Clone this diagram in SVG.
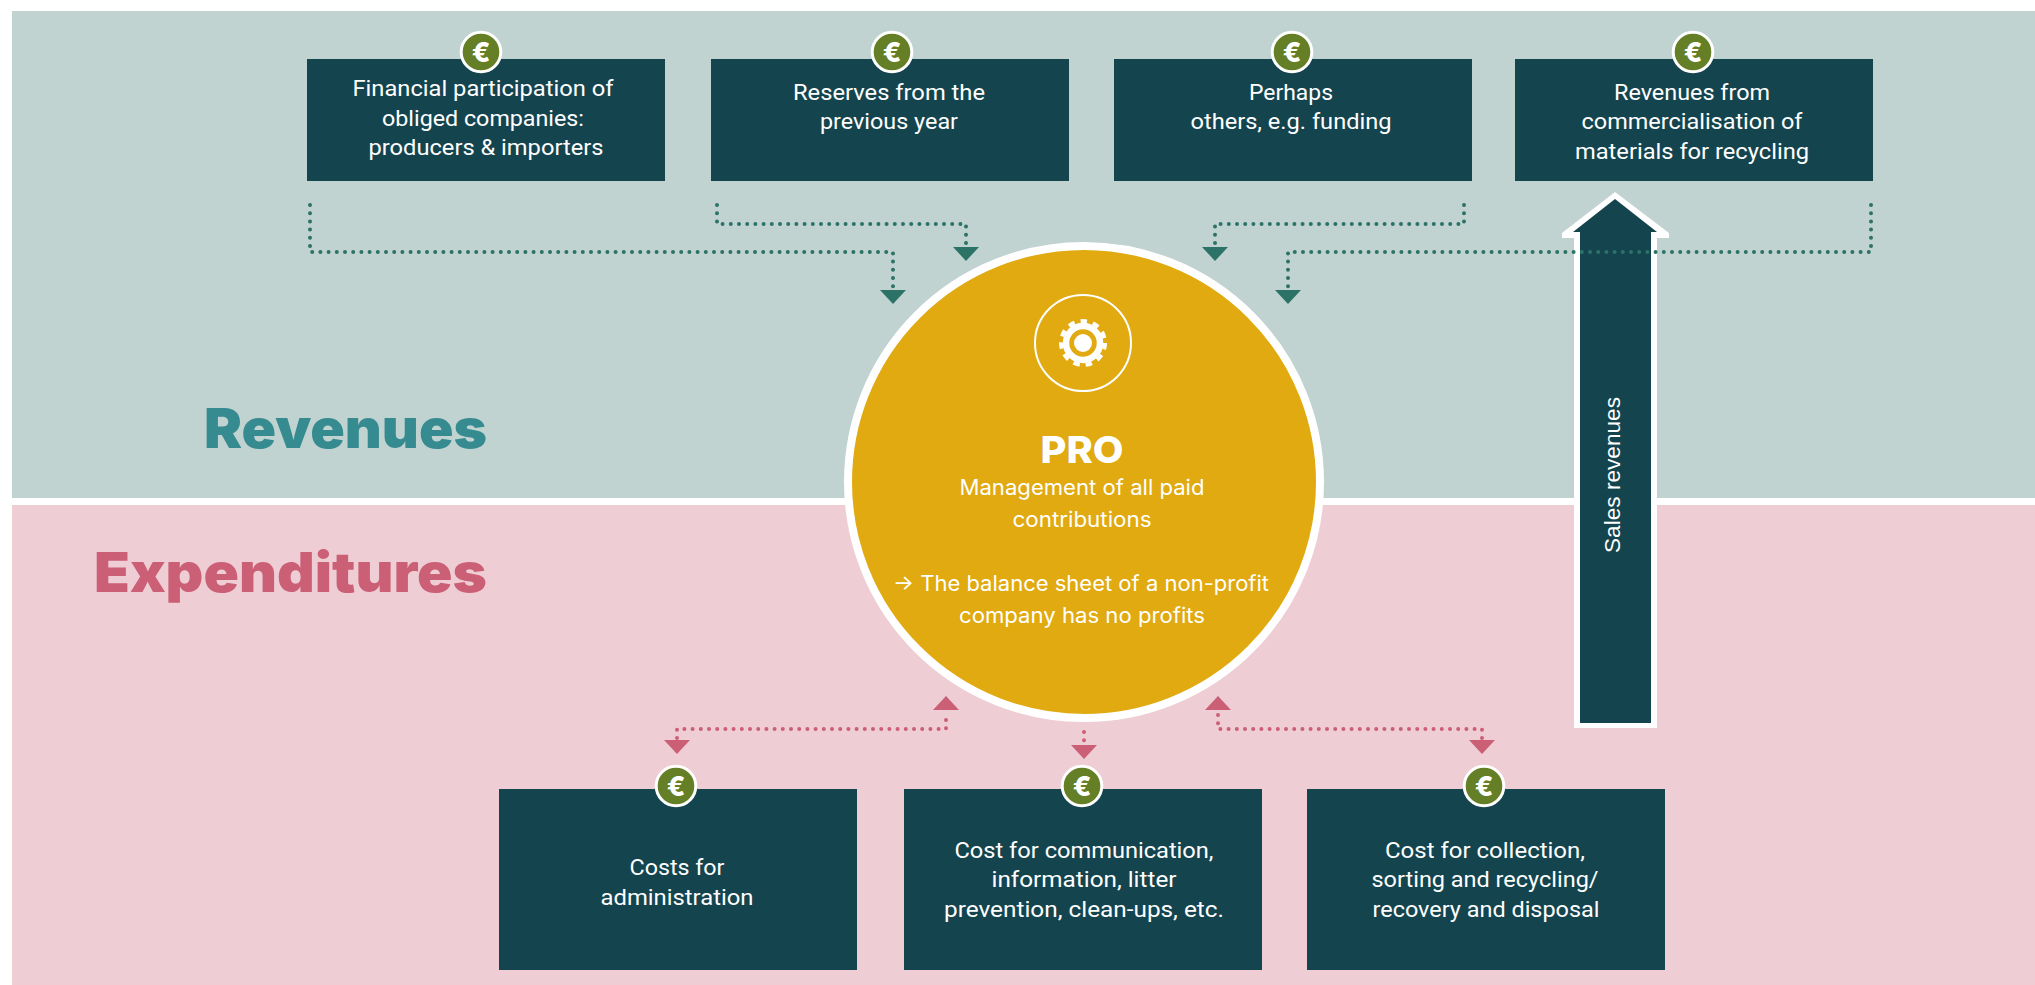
<svg xmlns="http://www.w3.org/2000/svg" width="2035" height="985" viewBox="0 0 2035 985">
<style>
text{font-family:Roboto,"Liberation Sans",sans-serif;fill:#fff;text-anchor:middle}
.b{fill:#14454f}
.t{font-size:21.5px}
.s{font-family:"Liberation Sans",Arial,sans-serif;font-size:22.6px}
.c{font-family:Inter,"Liberation Sans",sans-serif;font-size:21px}
.h{font-family:Inter,"Liberation Sans",sans-serif;font-size:55px;font-weight:900;text-anchor:end}
.coin{fill:#647f26;stroke:#fff;stroke-width:3}
.e{font-family:Inter,"Liberation Sans",sans-serif;font-size:27px;font-weight:800}
.g{fill:none;stroke:#2c7267;stroke-width:4;stroke-linecap:round;stroke-dasharray:0 8.2}
.p{fill:none;stroke:#cb5f75;stroke-width:4;stroke-linecap:round;stroke-dasharray:0 8.2}
</style>
<defs>
<g id="coin"><circle class="coin" r="19.8"/><text class="e" y="10">€</text></g>
<polygon id="ag" points="-13,0 13,0 0,14" fill="#2c7267"/>
<polygon id="ap" points="-13,0 13,0 0,14" fill="#cb5f75"/>
<polygon id="au" points="-13,14 13,14 0,0" fill="#cb5f75"/>
</defs>
<rect id="revenues-panel" x="12" y="11" width="2023" height="487" fill="#c0d3d0"/>
<rect id="expenditures-panel" x="12" y="505" width="2023" height="480" fill="#eecdd4"/>
<text class="h" x="487" y="448" style="fill:#368b91" textLength="283" lengthAdjust="spacingAndGlyphs">Revenues</text>
<text class="h" x="487" y="592" style="fill:#cb5f75" textLength="393" lengthAdjust="spacingAndGlyphs">Expenditures</text>

<g id="sales-arrow">
<polygon points="1615,192 1669,233 1669,238 1657,238 1657,728 1574,728 1574,238 1562,238 1562,233" fill="#fff"/>
<polygon points="1615,199 1657,232 1651,232 1651,723 1580,723 1580,232 1573,232" fill="#14454f"/>
<text class="s" transform="translate(1620 475) rotate(-90)" textLength="156" lengthAdjust="spacingAndGlyphs">Sales revenues</text>
</g>

<g id="connectors">
<path class="g" d="M310 205V252H893V288"/><use href="#ag" x="893" y="290"/>
<path class="g" d="M717 205V224H966V245"/><use href="#ag" x="966" y="247"/>
<path class="g" d="M1464 205V224H1215V245"/><use href="#ag" x="1215" y="247"/>
<path class="g" d="M1871 205V252H1288V288"/><use href="#ag" x="1288" y="290"/>
<path class="p" d="M677 738V729H946V712"/><use href="#ap" x="677" y="740"/><use href="#au" x="946" y="696"/>
<path class="p" d="M1084 732V743"/><use href="#ap" x="1084" y="745"/>
<path class="p" d="M1482 738V729H1218V712"/><use href="#ap" x="1482" y="740"/><use href="#au" x="1218" y="696"/>
</g>

<g id="pro">
<circle cx="1084" cy="482" r="236" fill="#e0aa10" stroke="#fff" stroke-width="8"/>
<circle cx="1083" cy="343" r="48" fill="none" stroke="#fff" stroke-width="2"/>
<circle cx="1083" cy="343" r="22" fill="none" stroke="#fff" stroke-width="4" stroke-dasharray="6.5 6.07"/>
<circle cx="1083" cy="343" r="17" fill="none" stroke="#fff" stroke-width="6.500"/>
<circle cx="1083" cy="343" r="9" fill="#fff"/>
<text class="c" x="1082" y="463" style="font-size:37px;font-weight:800" textLength="83" lengthAdjust="spacingAndGlyphs">PRO</text>
<text class="c" x="1082" y="495" textLength="245" lengthAdjust="spacingAndGlyphs">Management of all paid</text>
<text class="c" x="1082" y="527" textLength="139" lengthAdjust="spacingAndGlyphs">contributions</text>
<text class="c" x="1081" y="591" textLength="376" lengthAdjust="spacingAndGlyphs">→ The balance sheet of a non-profit</text>
<text class="c" x="1082" y="623" textLength="246" lengthAdjust="spacingAndGlyphs">company has no profits</text>
</g>

<g id="box-financial"><rect class="b" x="307" y="59" width="358" height="122"/><use href="#coin" x="481" y="52"/>
<text class="t" x="483" y="96" textLength="261" lengthAdjust="spacingAndGlyphs">Financial participation of</text>
<text class="t" x="483" y="126" textLength="202" lengthAdjust="spacingAndGlyphs">obliged companies:</text>
<text class="t" x="486" y="155" textLength="235" lengthAdjust="spacingAndGlyphs">producers &amp; importers</text></g>
<g id="box-reserves"><rect class="b" x="711" y="59" width="358" height="122"/><use href="#coin" x="892" y="52"/>
<text class="t" x="889" y="100" textLength="192" lengthAdjust="spacingAndGlyphs">Reserves from the</text>
<text class="t" x="889" y="129" textLength="138" lengthAdjust="spacingAndGlyphs">previous year</text></g>
<g id="box-others"><rect class="b" x="1114" y="59" width="358" height="122"/><use href="#coin" x="1292" y="52"/>
<text class="t" x="1291" y="100" textLength="84" lengthAdjust="spacingAndGlyphs">Perhaps</text>
<text class="t" x="1291" y="129" textLength="201" lengthAdjust="spacingAndGlyphs">others, e.g. funding</text></g>
<g id="box-commercial"><rect class="b" x="1515" y="59" width="358" height="122"/><use href="#coin" x="1693" y="52"/>
<text class="t" x="1692" y="100" textLength="156" lengthAdjust="spacingAndGlyphs">Revenues from</text>
<text class="t" x="1692" y="129" textLength="221" lengthAdjust="spacingAndGlyphs">commercialisation of</text>
<text class="t" x="1692" y="159" textLength="234" lengthAdjust="spacingAndGlyphs">materials for recycling</text></g>
<g id="box-admin"><rect class="b" x="499" y="789" width="358" height="181"/><use href="#coin" x="676" y="786"/>
<text class="t" x="677" y="875" textLength="95" lengthAdjust="spacingAndGlyphs">Costs for</text>
<text class="t" x="677" y="905" textLength="153" lengthAdjust="spacingAndGlyphs">administration</text></g>
<g id="box-communication"><rect class="b" x="904" y="789" width="358" height="181"/><use href="#coin" x="1082" y="786"/>
<text class="t" x="1084" y="858" textLength="259" lengthAdjust="spacingAndGlyphs">Cost for communication,</text>
<text class="t" x="1084" y="887" textLength="185" lengthAdjust="spacingAndGlyphs">information, litter</text>
<text class="t" x="1084" y="917" textLength="280" lengthAdjust="spacingAndGlyphs">prevention, clean-ups, etc.</text></g>
<g id="box-collection"><rect class="b" x="1307" y="789" width="358" height="181"/><use href="#coin" x="1484" y="786"/>
<text class="t" x="1485" y="858" textLength="200" lengthAdjust="spacingAndGlyphs">Cost for collection,</text>
<text class="t" x="1485" y="887" textLength="227" lengthAdjust="spacingAndGlyphs">sorting and recycling/</text>
<text class="t" x="1486" y="917" textLength="227" lengthAdjust="spacingAndGlyphs">recovery and disposal</text></g>
</svg>
